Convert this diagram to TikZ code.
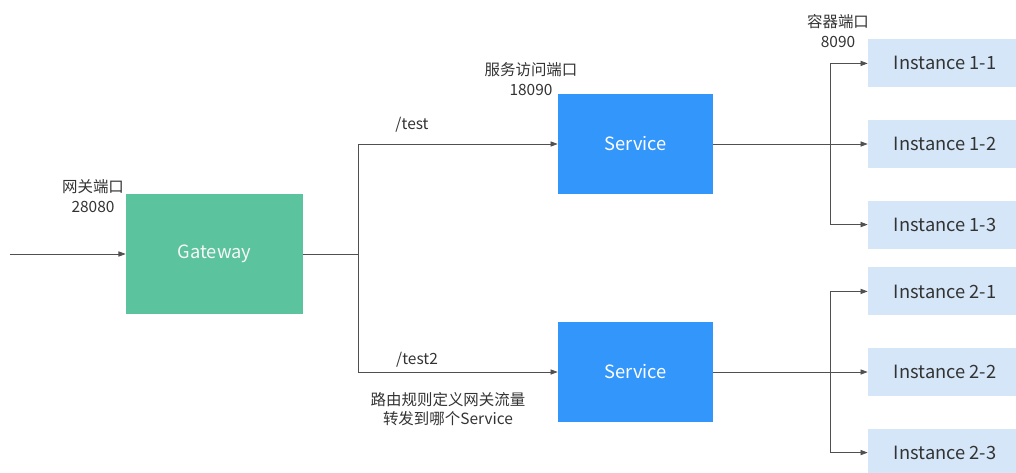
\documentclass[tikz,border=0pt]{standalone}
\usepackage{fontspec}
\setmainfont{Noto Sans CJK SC}
\usetikzlibrary{arrows.meta,positioning}
\definecolor{gwgreen}{RGB}{91,195,158}
\definecolor{svcblue}{RGB}{51,150,250}
\definecolor{instblue}{RGB}{212,230,248}
\definecolor{linegray}{RGB}{80,80,80}
\definecolor{textgray}{RGB}{51,51,51}
\tikzset{
  gwbox/.style={rectangle, fill=gwgreen, minimum width=4.425cm, minimum height=3cm,
                text=white!94!gray, font=\fontsize{13}{15}\selectfont},
  svcbox/.style={gwbox, fill=svcblue, minimum width=3.875cm, minimum height=2.5cm, text=white},
  instbox/.style={rectangle, fill=instblue, minimum width=3.85cm, minimum height=1.2cm,
                  text=textgray, font=\fontsize{13}{15}\selectfont},
  conn/.style={draw=linegray, line width=0.6pt},
  arrow/.style={conn, -{Triangle[length=1.8mm, width=1.3mm]}},
  note/.style={font=\fontsize{11}{14}\selectfont, align=center, text=textgray, inner sep=0pt},
}

\begin{document}
\begin{tikzpicture}[x=0.025cm, y=-0.025cm, node distance=0.8cm]
\clip (0,0) rectangle (1016,472);
% boxes
\node[gwbox] (gw) at (214.5,254) {Gateway};
\node[svcbox] (svc1) at (635.5,144) {Service};
\node[svcbox] (svc2) at (635.5,372) {Service};
\node[instbox] (inst12) at (945,144) {Instance 1-2};
\node[instbox, above=of inst12] (inst11) {Instance 1-1};
\node[instbox, below=of inst12] (inst13) {Instance 1-3};
\node[instbox] (inst22) at (945,372) {Instance 2-2};
\node[instbox, above=of inst22] (inst21) {Instance 2-1};
\node[instbox, below=of inst22] (inst23) {Instance 2-3};
% labels
\node[note] (gwport) at (93,196) {网关端口\\28080};
\node[note] (svcport) at (531,79) {服务访问端口\\18090};
\node[note] (instport) at (838,31) {容器端口\\8090};
\node[note] (path1) at (412,125) {/test};
\node[note] (path2) at (417,360) {/test2};
\node[note] (route) at (448,409) {路由规则定义网关流量\\转发到哪个Service};
% connectors
\coordinate (entry) at (10,254);
\coordinate (split) at (358,254);
\coordinate (fan1) at (830,144);
\coordinate (fan2) at (830,372);
\draw[arrow] (entry) -- (gw.west);
\draw[conn] (gw.east) -- (split);
\draw[arrow] (split) |- (svc1.west);
\draw[arrow] (split) |- (svc2.west);
\draw[arrow] (svc1.east) -- (inst12.west);
\draw[arrow] (fan1) |- (inst11.west);
\draw[arrow] (fan1) |- (inst13.west);
\draw[arrow] (svc2.east) -- (inst22.west);
\draw[arrow] (fan2) |- (inst21.west);
\draw[arrow] (fan2) |- (inst23.west);
\end{tikzpicture}
\end{document}
